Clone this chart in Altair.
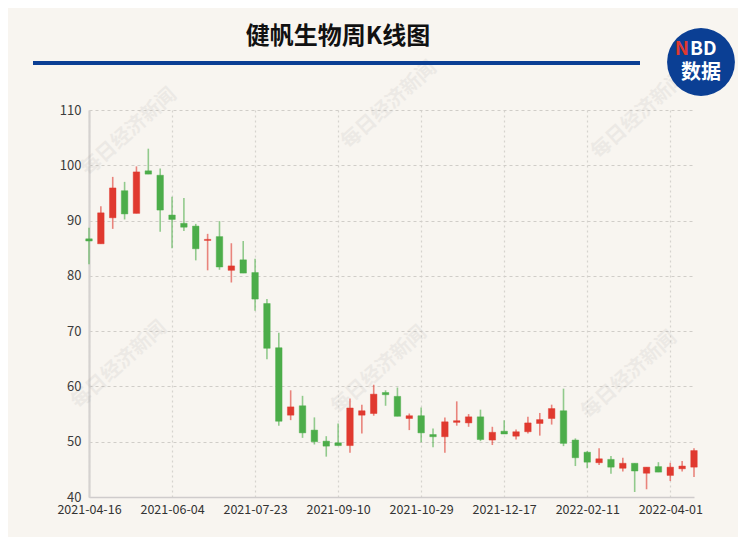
import altair as alt
import pandas as pd

dates = [
    "2021-04-16", "2021-04-23", "2021-04-30", "2021-05-07", "2021-05-14", "2021-05-21",
    "2021-05-28", "2021-06-04", "2021-06-11", "2021-06-18", "2021-06-25", "2021-07-02",
    "2021-07-09", "2021-07-16", "2021-07-23", "2021-07-30", "2021-08-06", "2021-08-13",
    "2021-08-20", "2021-08-27", "2021-09-03", "2021-09-10", "2021-09-17", "2021-09-24",
    "2021-09-30", "2021-10-08", "2021-10-15", "2021-10-22", "2021-10-29", "2021-11-05",
    "2021-11-12", "2021-11-19", "2021-11-26", "2021-12-03", "2021-12-10", "2021-12-17",
    "2021-12-24", "2021-12-31", "2022-01-07", "2022-01-14", "2022-01-21", "2022-01-28",
    "2022-02-11", "2022-02-18", "2022-02-25", "2022-03-04", "2022-03-11", "2022-03-18",
    "2022-03-25", "2022-04-01", "2022-04-08", "2022-04-15",
]
opens = [86.7, 85.8, 90.5, 95.4, 91.3, 99.0, 98.2, 91.0, 89.5, 89.0,
         86.4, 87.1, 81.0, 82.9, 80.6, 75.0, 67.0, 54.8, 56.5, 52.1,
         50.1, 49.8, 49.3, 54.8, 55.1, 58.9, 58.2, 54.2, 54.7, 51.3,
         50.9, 53.5, 53.4, 54.5, 50.3, 51.9, 51.0, 51.8, 53.3, 54.2,
         55.6, 50.3, 48.1, 46.2, 46.8, 45.2, 46.1, 44.3, 45.5, 43.9,
         45.1, 45.4]
closes = [86.3, 91.4, 95.9, 91.2, 98.8, 98.4, 91.9, 90.2, 88.8, 84.9,
          86.6, 81.6, 81.8, 80.5, 75.8, 66.9, 53.7, 56.3, 51.6, 50.0,
          49.2, 49.3, 56.1, 55.6, 58.6, 58.5, 54.6, 54.7, 51.6, 50.9,
          53.6, 53.8, 54.5, 50.4, 51.7, 51.4, 51.8, 53.4, 54.0, 56.0,
          49.7, 47.1, 46.3, 46.9, 45.4, 46.1, 44.7, 45.4, 44.5, 45.4,
          45.6, 48.4]
highs = [88.7, 92.6, 97.9, 97.0, 99.8, 103.0, 99.4, 94.3, 94.1, 89.4,
         87.6, 89.9, 85.9, 86.3, 83.1, 75.8, 69.7, 59.3, 58.3, 54.4,
         51.0, 53.3, 57.8, 56.7, 60.3, 59.3, 59.8, 55.1, 56.2, 52.4,
         54.4, 57.3, 55.0, 55.8, 52.7, 53.9, 52.2, 54.5, 55.2, 56.7,
         59.6, 50.6, 48.3, 48.8, 47.4, 47.1, 46.1, 45.4, 46.3, 46.2,
         46.5, 48.8]
lows = [82.1, 85.8, 88.5, 90.2, 91.3, 98.4, 88.0, 85.0, 88.1, 82.8,
        81.0, 81.1, 78.8, 80.5, 73.7, 64.9, 52.9, 53.9, 50.7, 49.5,
        47.3, 49.3, 48.0, 51.5, 54.7, 56.5, 54.6, 52.1, 49.9, 49.0,
        48.0, 52.9, 52.7, 50.1, 49.4, 51.4, 50.4, 51.5, 51.1, 53.1,
        49.2, 45.6, 45.2, 45.8, 44.2, 44.6, 40.9, 41.4, 44.5, 42.9,
        44.6, 43.6]
x_labels = ["2021-04-16", "2021-06-04", "2021-07-23", "2021-09-10",
            "2021-10-29", "2021-12-17", "2022-02-11", "2022-04-01"]
y_ticks = [40, 50, 60, 70, 80, 90, 100, 110]

title_text = "健帆生物周K线图"
watermark = "每日经济新闻"

RED = "#e0392f"
GREEN = "#4cad4a"
BG = "#f8f5f0"
FONT = "Noto Sans CJK SC"

df = pd.DataFrame({"date": dates, "open": opens, "close": closes,
                   "high": highs, "low": lows})
df["dir"] = ["up" if c >= o else "down" for o, c in zip(opens, closes)]

color_scale = alt.Scale(domain=["up", "down"], range=[RED, GREEN])

x_enc = alt.X(
    "date:O",
    scale=alt.Scale(type="point", padding=0),
    axis=alt.Axis(values=x_labels, labelAngle=0, title=None, ticks=False,
                  grid=True, gridDash=[2, 3], gridColor="#d6d3ce", gridWidth=1.2,
                  domainColor="#cfcccc", domainWidth=1.5,
                  labelFont=FONT, labelFontSize=12.5, labelColor="#333333",
                  labelPadding=6),
)
y_scale = alt.Scale(domain=[40, 110], nice=False, zero=False)

base = alt.Chart(df)

wicks = base.mark_rule(strokeWidth=1.6, opacity=0.6).encode(
    x=x_enc,
    y=alt.Y("low:Q", scale=y_scale,
            axis=alt.Axis(values=y_ticks, title=None, ticks=False, grid=True,
                          gridDash=[3, 3], gridColor="#d0cdc8", gridWidth=1,
                          domainColor="#d5d2d0", domainWidth=2.2,
                          labelFont=FONT, labelFontSize=13, labelColor="#3c3c3c",
                          labelPadding=8)),
    y2="high:Q",
    color=alt.Color("dir:N", scale=color_scale, legend=None),
)

bodies = base.mark_bar(size=6.5, strokeWidth=1, strokeOpacity=0.45).encode(
    x=alt.X("date:O", scale=alt.Scale(type="point", padding=0)),
    y=alt.Y("open:Q", scale=y_scale),
    y2="close:Q",
    fill=alt.Fill("dir:N", scale=color_scale, legend=None),
    stroke=alt.Stroke("dir:N", scale=color_scale, legend=None),
)

# decorations (outside the plot area): title, underline, logo, watermarks
one = alt.Chart(pd.DataFrame({"k": [0]}))

def wm(px, py):
    return one.mark_text(text=watermark, font=FONT, fontSize=20, fontWeight="bold",
                         angle=318, color="#9a9a9a", opacity=0.12).encode(
        x=alt.value(px), y=alt.value(py))

title = one.mark_text(text=title_text, font=FONT, fontSize=24, fontWeight="bold",
                      color="#111111", align="center", baseline="middle").encode(
    x=alt.value(249), y=alt.value(-73))
underline = one.mark_rule(color="#0b3f94", strokeWidth=4).encode(
    x=alt.value(-56), x2=alt.value(551), y=alt.value(-47))
logo = one.mark_point(shape="circle", filled=True, size=4600, color="#0b3f94",
                      opacity=1).encode(x=alt.value(612), y=alt.value(-48))
logo_n = one.mark_text(text="N", font=FONT, fontSize=19, fontWeight="bold",
                       color="#e0392f", align="right",
                       baseline="middle").encode(x=alt.value(600), y=alt.value(-61))
logo_bd = one.mark_text(text="BD", font=FONT, fontSize=19, fontWeight="bold",
                        color="#ffffff", align="left",
                        baseline="middle").encode(x=alt.value(601), y=alt.value(-61))
logo_cn = one.mark_text(text="数据", font=FONT, fontSize=20, fontWeight="bold",
                        color="#ffffff", align="center",
                        baseline="middle").encode(x=alt.value(612), y=alt.value(-37))

chart = alt.layer(
    wm(40, 22), wm(300, -5), wm(550, 5), wm(30, 255), wm(290, 260), wm(540, 265),
    wicks, bodies, title, underline, logo, logo_n, logo_bd, logo_cn,
).properties(
    width=605, height=387,
    autosize=alt.AutoSizeParams(type="none"),
    padding={"left": 81, "top": 102, "right": 44, "bottom": 40},
    background=BG,
).configure_view(stroke=None)

chart.save("out.html", embed_options={"renderer": "svg", "actions": False})
